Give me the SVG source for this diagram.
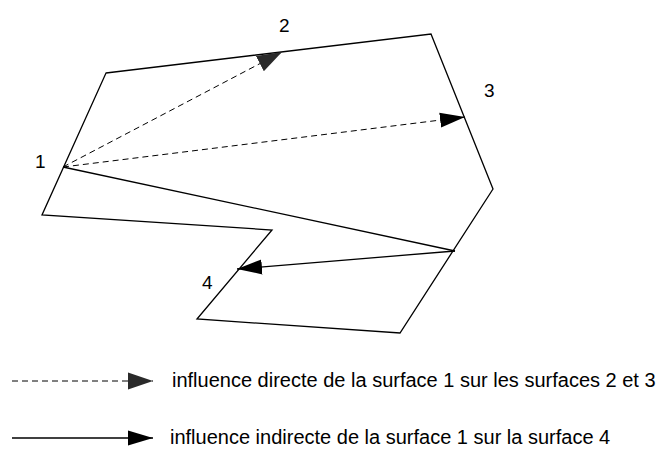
<svg xmlns="http://www.w3.org/2000/svg" width="656" height="453" viewBox="0 0 656 453">
<defs>
<style>
.outline{fill:none;stroke:#000;stroke-width:1.3;stroke-linejoin:miter}
.dash{fill:none;stroke:#000;stroke-width:1;stroke-dasharray:6,4}
.solid{fill:none;stroke:#000;stroke-width:1.3}
.lbl{font-family:"Liberation Sans",Arial,sans-serif;font-size:19px;fill:#000}
.leg{font-family:"Liberation Sans",Arial,sans-serif;font-size:20px;fill:#000}
</style>
<marker id="ah" viewBox="0 0 10 10" refX="10" refY="5" markerWidth="25" markerHeight="25" markerUnits="userSpaceOnUse" orient="auto"><path d="M0,2 L10,5 L0,8 Z" fill="#000"/></marker>
<marker id="ahg" viewBox="0 0 10 10" refX="10" refY="5" markerWidth="25" markerHeight="25" markerUnits="userSpaceOnUse" orient="auto"><path d="M0,1.6 L10,5 L0,8.4 Z" fill="#2a2a2a"/></marker>
</defs>
<g id="surfaces">
<polygon class="outline" points="106,73 431,34 493,189 400,333 197,319 272,230 42,215"/>
</g>
<g id="connectors">
<line class="dash" x1="63" y1="167" x2="282" y2="52" marker-end="url(#ahg)"/>
<line class="dash" x1="63" y1="167" x2="465" y2="117" marker-end="url(#ah)"/>
<line class="solid" x1="63" y1="167" x2="455" y2="251"/>
<line class="solid" x1="455" y1="251" x2="237" y2="269" marker-end="url(#ah)"/>
</g>
<g id="labels">
<text class="lbl" x="279" y="32">2</text>
<text class="lbl" x="484" y="97">3</text>
<text class="lbl" x="35" y="168">1</text>
<text class="lbl" x="202" y="289">4</text>
</g>
<g id="legend">
<line class="dash" x1="12" y1="381" x2="153" y2="381" marker-end="url(#ahg)"/>
<text class="leg" x="172" y="387">influence directe de la surface 1 sur les surfaces 2 et 3</text>
<line class="solid" x1="12" y1="438" x2="153" y2="438" marker-end="url(#ah)"/>
<text class="leg" x="170" y="444">influence indirecte de la surface 1 sur la surface 4</text>
</g>
</svg>
